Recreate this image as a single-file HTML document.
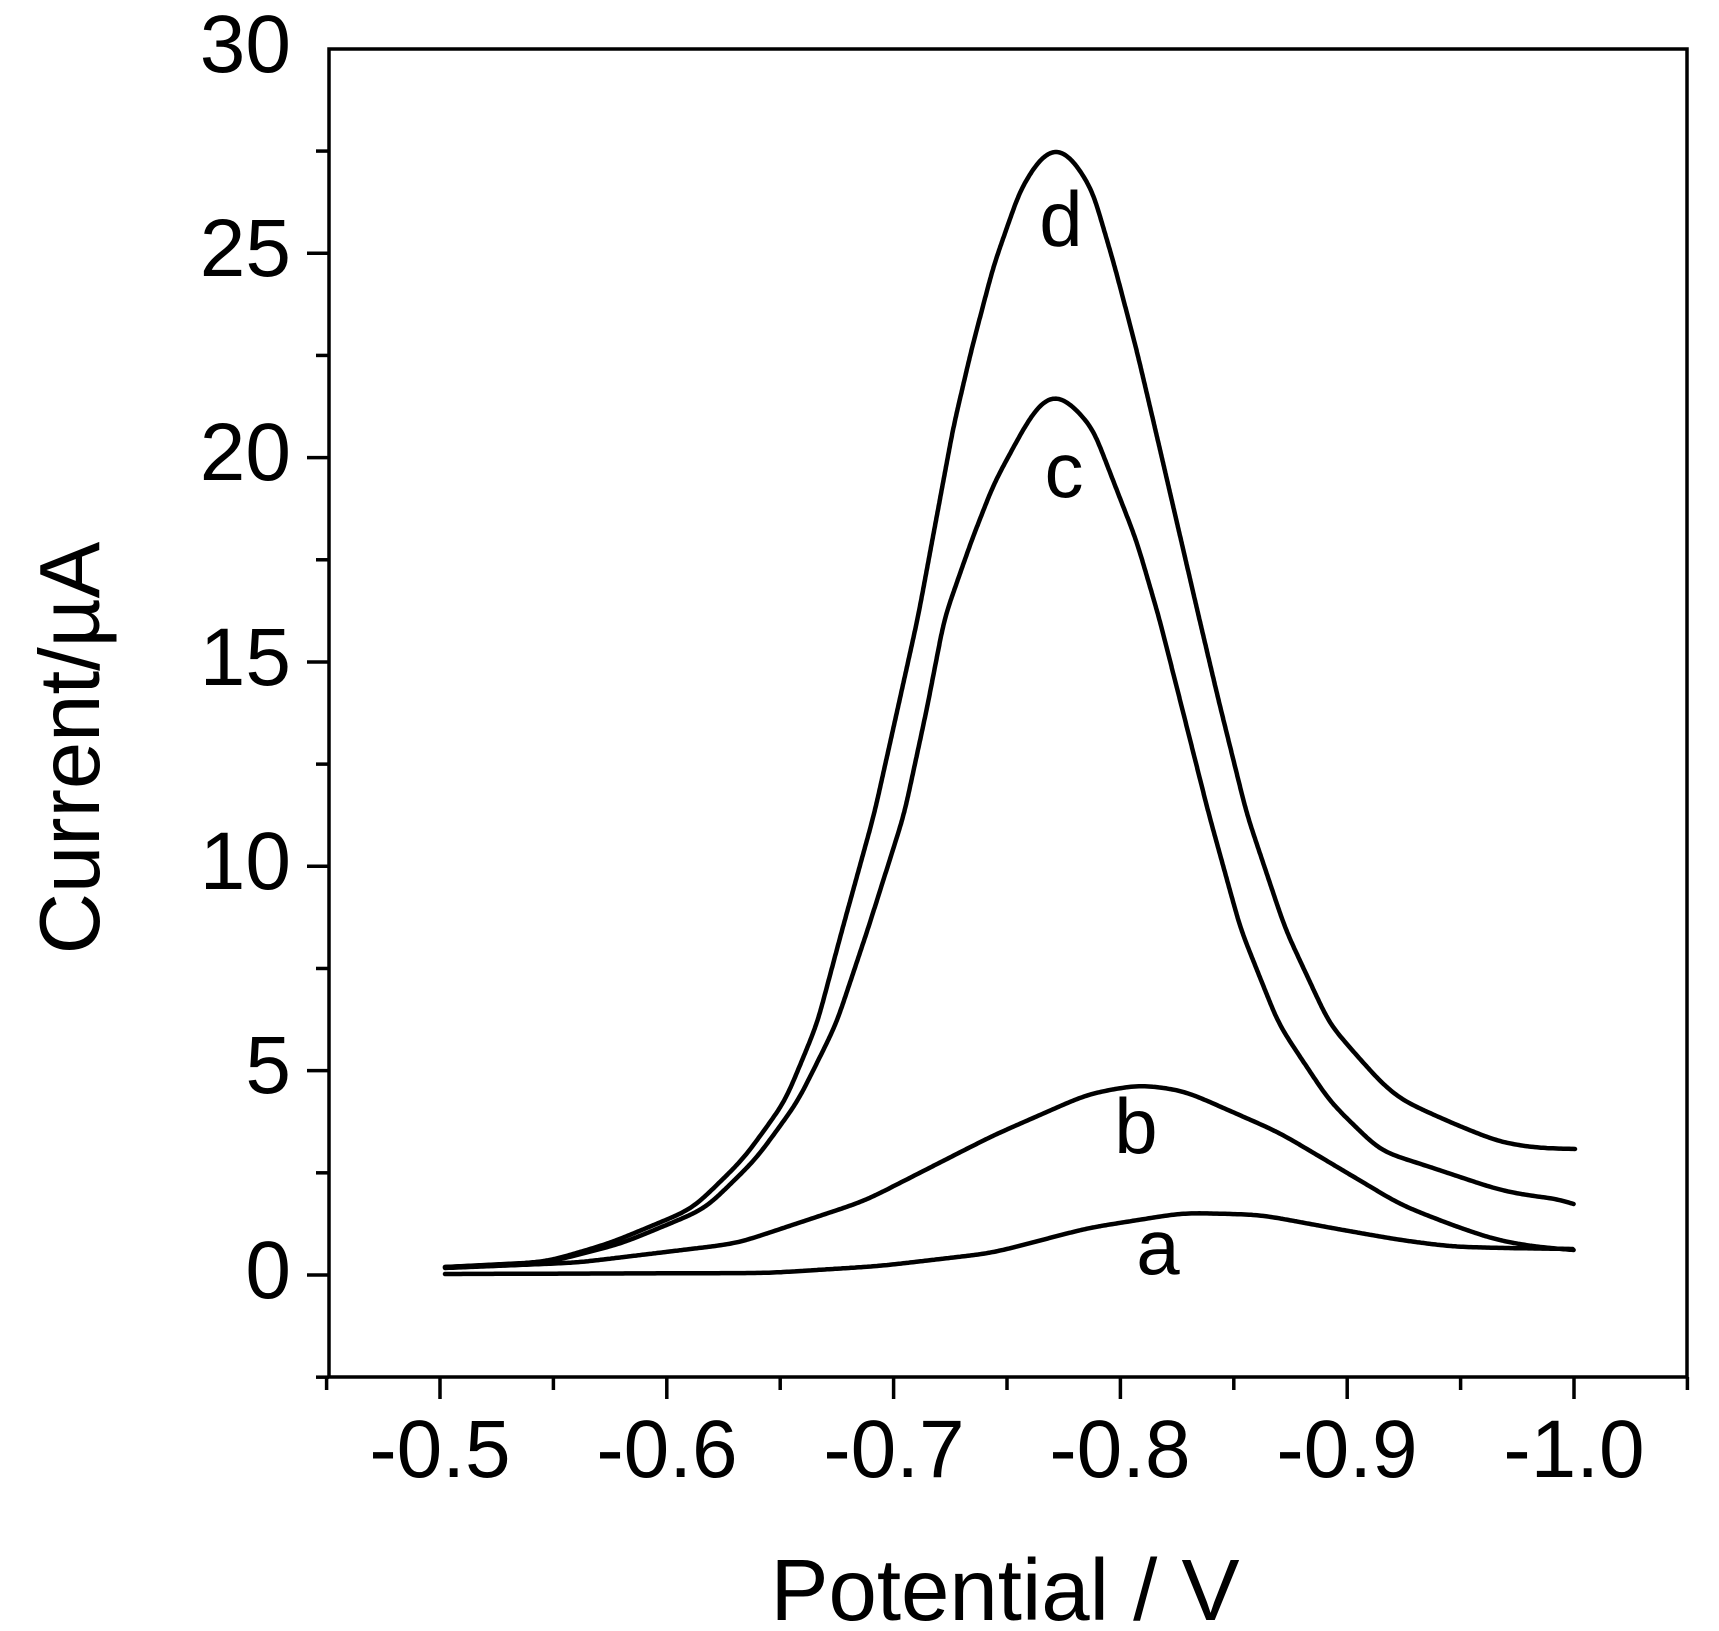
<!DOCTYPE html>
<html><head><meta charset="utf-8"><style>
html,body{margin:0;padding:0;background:#fff;}
svg{display:block;}
text{font-family:"Liberation Sans",Arial,sans-serif;fill:#000;}
</style></head><body>
<svg id="s" width="1719" height="1631" viewBox="0 0 1719 1631" xmlns="http://www.w3.org/2000/svg">
<rect width="1719" height="1631" fill="#fff"/>
<g id="axes" stroke="#000" stroke-width="3.5" fill="none">
<rect x="329" y="49" width="1358" height="1328"/>
</g>
<g id="ticks" stroke="#000" stroke-width="3.5"></g>
<g font-size="82" text-anchor="end" id="ylab">
<text x="291" y="72">30</text>
<text x="291" y="276">25</text>
<text x="291" y="480">20</text>
<text x="291" y="685">15</text>
<text x="291" y="889">10</text>
<text x="291" y="1093">5</text>
<text x="291" y="1298">0</text>
</g>
<g font-size="82" text-anchor="middle">
<text x="440" y="1477">-0.5</text>
<text x="667" y="1477">-0.6</text>
<text x="894" y="1477">-0.7</text>
<text x="1120" y="1477">-0.8</text>
<text x="1347" y="1477">-0.9</text>
<text x="1574" y="1477">-1.0</text>
</g>
<text x="1005" y="1620" font-size="87" text-anchor="middle">Potential / V</text>
<text transform="translate(99,748) rotate(-90)" font-size="85" text-anchor="middle">Current/µA</text>
<g font-size="78" text-anchor="middle">
<text x="1061" y="246">d</text>
<text x="1064" y="497">c</text>
<text x="1136" y="1153">b</text>
<text x="1158" y="1274">a</text>
</g>
<g id="curves" stroke="#000" stroke-width="4.5" fill="none" stroke-linejoin="round" stroke-linecap="round"></g>
</svg>
<script>
var NS="http://www.w3.org/2000/svg";
var tk=document.getElementById("ticks");
function ln(x1,y1,x2,y2){var l=document.createElementNS(NS,"line");l.setAttribute("x1",x1);l.setAttribute("y1",y1);l.setAttribute("x2",x2);l.setAttribute("y2",y2);tk.appendChild(l);}
for(var i=0;i<=12;i++){var v=-2.5+i*2.5;var y=1275-v*40.87;var major=(i%2==1);ln(329,y,329-(major?22:13),y);}
for(var i=0;i<=12;i++){var v=0.45+i*0.05;var x=440+(v-0.5)*2268;var major=(i%2==1);ln(x,1377,x,1377+(major?22:13));}
var curves={
d:[[445,1267],[545.7,1262],[609.4,1243.4],[692.3,1209],[743.4,1159],[784.8,1101.8],[816.7,1025],[842.2,929.6],[874,814.8],[899.6,700],[917.9,617.5],[935.7,522],[953.6,426],[971.4,350],[993.8,265],[1020.5,189],[1040,158],[1056,145],[1072,158],[1092,189],[1114.3,265],[1136.6,350],[1154.5,426],[1176.8,522],[1199,617.5],[1218.5,700],[1247,814.8],[1285.5,929.6],[1330,1025],[1381,1082.7],[1401,1100],[1452,1123],[1499,1142],[1536,1148],[1575,1149]],
c:[[445,1267],[545.7,1263],[622,1243.4],[705,1209],[756,1159],[797.6,1101.8],[835.8,1025],[867.7,929.6],[904,814.8],[926.8,709],[944.6,617.5],[971.4,541],[993.8,483.6],[1025,426],[1040,403],[1055,392],[1070,403],[1092,426],[1114.3,483.6],[1136.6,541],[1159,617.5],[1180,700],[1209,814.8],[1240.8,929.6],[1279,1025],[1330,1101.8],[1381,1151.6],[1418,1163],[1469,1180],[1499,1190],[1536.5,1197],[1558,1198],[1573.6,1204]],
b:[[445,1268],[577.5,1262.6],[737,1243.4],[864.5,1201],[992,1136],[1087.8,1094],[1138.8,1084.6],[1183.4,1090.4],[1279,1132.4],[1350.7,1175],[1401,1205],[1452,1225],[1496,1240],[1536.5,1247],[1573.6,1250]],
a:[[445,1274],[769,1273],[880,1266],[992,1253],[1087.8,1228],[1183.4,1212.8],[1260,1214.7],[1343,1230],[1400,1240],[1452,1246.7],[1502.7,1248],[1573.6,1249]]
};
var cg=document.getElementById("curves");
for(var k in curves){var p=curves[k];
 // resample by arc length, step 1px
 var xs=[],ys=[];
 for(var j=0;j<p.length-1;j++){var dx=p[j+1][0]-p[j][0],dy=p[j+1][1]-p[j][1];var L=Math.sqrt(dx*dx+dy*dy);var n=Math.max(1,Math.round(L));
  for(var q=0;q<n;q++){xs.push(p[j][0]+dx*q/n);ys.push(p[j][1]+dy*q/n);}}
 xs.push(p[p.length-1][0]);ys.push(p[p.length-1][1]);
 var sig=14,R=42,sx=[],sy=[];
 for(var i=0;i<xs.length;i++){var a=0,b=0,w=0;for(var q=-R;q<=R;q++){var ii=i+q;var px,py;
   if(ii<0){px=2*xs[0]-xs[-ii];py=2*ys[0]-ys[-ii];}
   else if(ii>=xs.length){var m=2*(xs.length-1)-ii;px=2*xs[xs.length-1]-xs[m];py=2*ys[ys.length-1]-ys[m];}
   else{px=xs[ii];py=ys[ii];}
   var ww=Math.exp(-q*q/(2*sig*sig));a+=px*ww;b+=py*ww;w+=ww;}
  sx.push(a/w);sy.push(b/w);}
 var d="M"+sx[0].toFixed(1)+","+sy[0].toFixed(1);
 for(var i=2;i<sx.length;i+=2)d+=" L"+sx[i].toFixed(1)+","+sy[i].toFixed(1);
 var pa=document.createElementNS(NS,"path");pa.setAttribute("d",d);cg.appendChild(pa);}
</script>
</body></html>
